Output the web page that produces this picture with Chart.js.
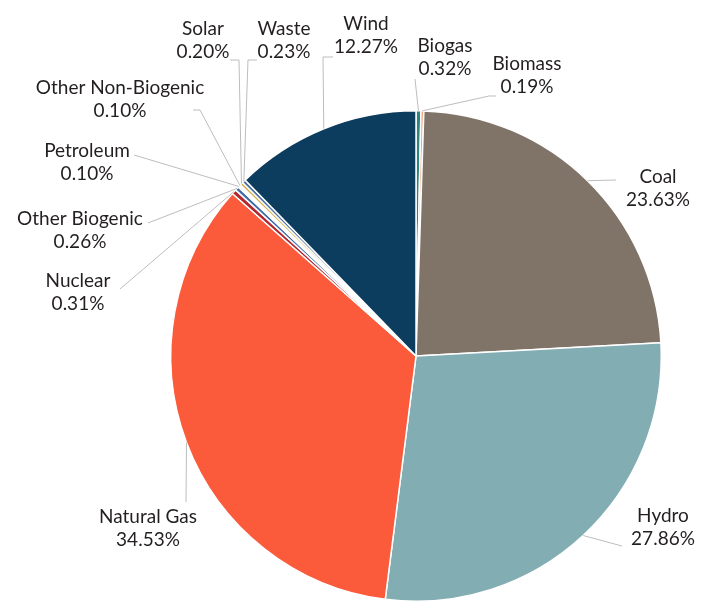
<!DOCTYPE html>
<html>
<head>
<meta charset="utf-8">
<script src="https://cdn.jsdelivr.net/npm/chart.js@4.4.1/dist/chart.umd.min.js"></script>
<style>
  html, body { margin: 0; padding: 0; background: #fff; }
  canvas { display: block; }
</style>
</head>
<body>
<canvas id="mixChart" width="712" height="603"></canvas>
<script>
// generation mix, clockwise from 12 o'clock
const categories = ['Biogas', 'Biomass', 'Coal', 'Hydro', 'Natural Gas', 'Nuclear',
    'Other Biogenic', 'Petroleum', 'Other Non-Biogenic', 'Solar', 'Waste', 'Wind'];
const shares = [0.32, 0.19, 23.63, 27.86, 34.53, 0.31, 0.26, 0.10, 0.10, 0.20, 0.23, 12.27];
const sliceColors = ['#2b8580', '#f4a47c', '#807469', '#82adb3', '#fb5a3b', '#b3282e',
    '#3c6aa6', '#e6e6e6', '#f0f0f0', '#d1ae4a', '#4b70a4', '#0c3d5e'];

// where each label sits: text centre, optional elbow, line end
const labelLayout = [
    { x: 445, y: 46, end: [415, 79] },
    { x: 527, y: 64, end: [496, 96], elbow: [489, 96] },
    { x: 658, y: 177, end: [616, 180] },
    { x: 663, y: 516, end: [622, 546] },
    { x: 148, y: 517, end: [186, 502] },
    { x: 78, y: 281, end: [120, 289] },
    { x: 80, y: 219, end: [148, 223] },
    { x: 87, y: 151, end: [134, 155] },
    { x: 120, y: 88, end: [193, 110], elbow: [200, 110] },
    { x: 203, y: 29, end: [230, 60], elbow: [239, 60] },
    { x: 284, y: 29, end: [257, 60], elbow: [248, 60] },
    { x: 366, y: 24, end: [333, 57], elbow: [323, 57] }
];

const calloutPlugin = {
    id: 'callouts',
    afterDraw(chart) {
        const ctx = chart.ctx;
        const meta = chart.getDatasetMeta(0);
        ctx.save();
        meta.data.forEach(function (arc, i) {
            const pos = labelLayout[i];
            const mid = (arc.startAngle + arc.endAngle) / 2;
            const sx = arc.x + Math.cos(mid) * arc.outerRadius;
            const sy = arc.y + Math.sin(mid) * arc.outerRadius;
            ctx.strokeStyle = '#bdbdbd';
            ctx.lineWidth = 1;
            ctx.beginPath();
            ctx.moveTo(sx, sy);
            if (pos.elbow) ctx.lineTo(pos.elbow[0], pos.elbow[1]);
            ctx.lineTo(pos.end[0], pos.end[1]);
            ctx.stroke();

            ctx.fillStyle = '#231f20';
            ctx.font = '19px Lato, "DejaVu Sans", sans-serif';
            ctx.textAlign = 'center';
            ctx.textBaseline = 'middle';
            ctx.fillText(categories[i], pos.x, pos.y);
            ctx.fillText(shares[i].toFixed(2) + '%', pos.x, pos.y + 23);
        });
        ctx.restore();
    }
};

new Chart(document.getElementById('mixChart').getContext('2d'), {
    type: 'pie',
    data: {
        labels: categories,
        datasets: [{
            data: shares,
            backgroundColor: sliceColors,
            borderColor: '#ffffff',
            borderWidth: 1.5
        }]
    },
    options: {
        responsive: false,
        animation: false,
        layout: {
            padding: { left: 170, right: 50, top: 110, bottom: 1 }
        },
        plugins: {
            legend: { display: false },
            tooltip: { enabled: false }
        }
    },
    plugins: [calloutPlugin]
});
</script>
</body>
</html>
